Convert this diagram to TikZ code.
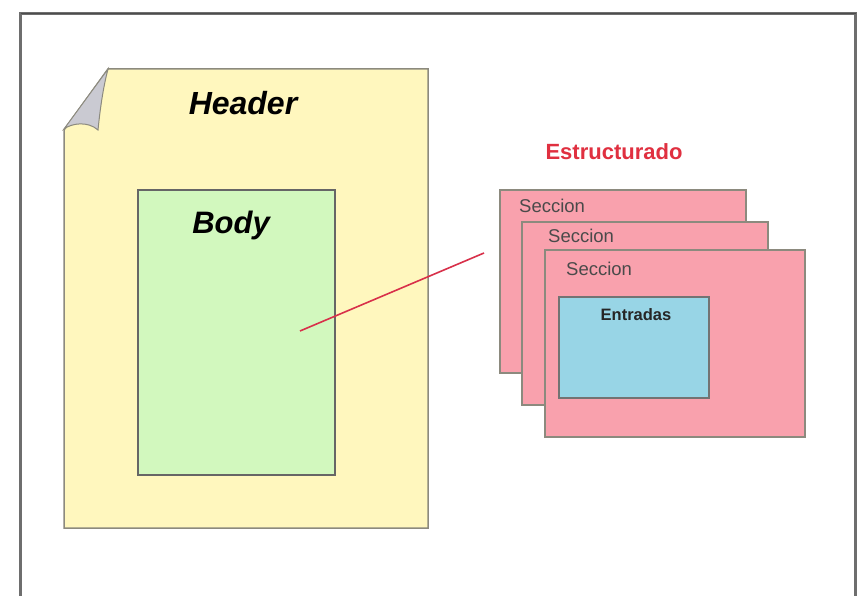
\documentclass[tikz,border=0pt]{standalone}
\usepackage{fontspec}
\setmainfont{Liberation Sans}
\begin{document}
\begin{tikzpicture}[x=1pt,y=-1pt,
  pagefill/.style={fill=yellowpg, draw=edgegray, line width=1.5pt},
  boxline/.style={draw=edgegray, line width=1.5pt},
  secbox/.style={boxline, fill=pinkbox},
  seclabel/.style={font=\fontsize{18.5}{18.5}\selectfont, text=textgray, anchor=west, inner sep=0pt},
  bigitalic/.style={font=\fontsize{31}{31}\selectfont\bfseries\itshape, inner sep=0pt}]
\definecolor{yellowpg}{HTML}{FFF7BE}
\definecolor{greenbody}{HTML}{D2F8BE}
\definecolor{pinkbox}{HTML}{F9A1AD}
\definecolor{bluebox}{HTML}{98D5E6}
\definecolor{edgegray}{HTML}{8C8A7E}
\definecolor{textgray}{HTML}{4A4A4A}
\definecolor{framegray}{HTML}{6E6E6E}
\definecolor{redtxt}{HTML}{E03040}
\definecolor{redline}{HTML}{D8304A}
\definecolor{curlgray}{HTML}{CACAD2}
\useasboundingbox (0,0) rectangle (862,596);
\fill[white] (0,0) rectangle (862,596);
% outer frame
\draw[framegray, line width=3pt] (20.5,596) -- (20.5,14) -- (855.5,14) -- (855.5,596);
\draw[black!70, line width=1.5pt] (20.5,13.5) -- (855.5,13.5);
% page
\path[pagefill] (108,69) -- (428,69) -- (428,528) -- (64,528) -- (64,130) -- cycle;
% dog ear curl
\path[fill=curlgray, draw=edgegray, line width=1pt]
  (108,69) -- (64,129) .. controls (72,123) and (88,121) .. (98,130)
  .. controls (100,110) and (103,88) .. (108,69) -- cycle;
\node[bigitalic, font=\fontsize{32}{32}\selectfont\bfseries\itshape] (header) at (243,103) {Header};
% body
\node[draw=black!60, line width=1.5pt, fill=greenbody, minimum width=197pt, minimum height=285pt, inner sep=0pt] (body) at (236.5,332.5) {};
\node[bigitalic] (bodylbl) at (231,225) {Body};
% sections
\node[secbox, minimum width=246pt, minimum height=183pt, inner sep=0pt] (s1) at (623,281.5) {};
\node[seclabel] (s1l) at (519,206) {Seccion};
\node[secbox, minimum width=246pt, minimum height=183pt, inner sep=0pt] (s2) at (645,313.5) {};
\node[seclabel] (s2l) at (548,236) {Seccion};
\node[secbox, minimum width=260pt, minimum height=187pt, inner sep=0pt] (s3) at (675,343.5) {};
\node[seclabel] (s3l) at (566,269) {Seccion};
\node[draw=black!55, line width=1.5pt, fill=bluebox, minimum width=150pt, minimum height=101pt, inner sep=0pt] (entr) at (634,347.5) {};
\node[font=\fontsize{16.5}{16.5}\selectfont\bfseries, text=black!85, inner sep=0pt] (entrl) at (636,315) {Entradas};
\node[font=\fontsize{22}{22}\selectfont\bfseries, text=redtxt, inner sep=0pt] (estr) at (614,152) {Estructurado};
% connector
\coordinate (linestart) at (300,331);
\coordinate (lineend) at (484,253);
\draw[redline, line width=1.6pt] (linestart) -- (lineend);
\end{tikzpicture}
\end{document}
